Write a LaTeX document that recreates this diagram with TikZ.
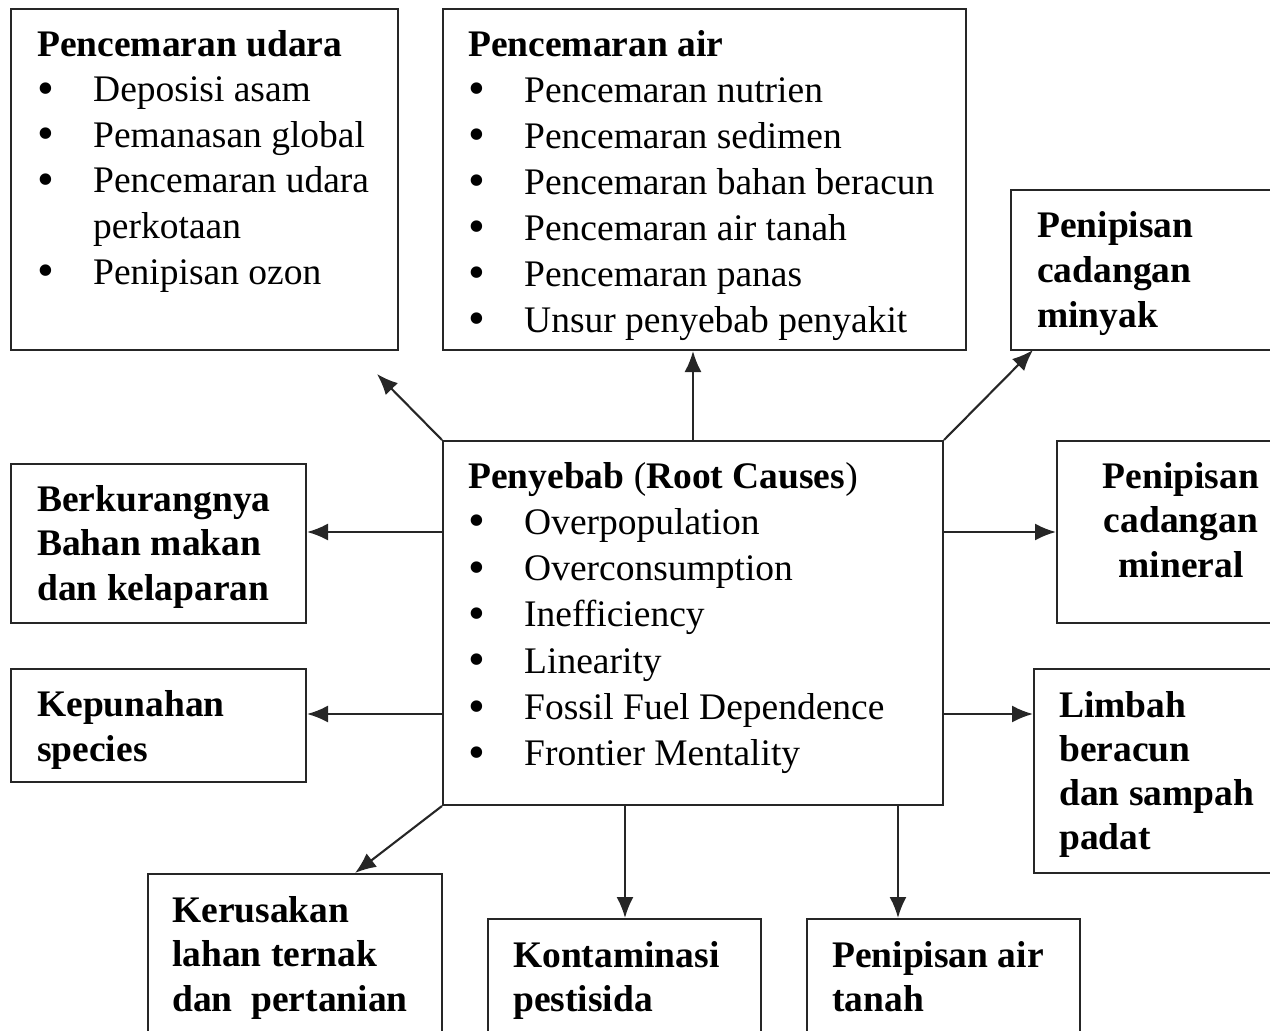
\documentclass[tikz,border=0pt]{standalone}
\usepackage{fontspec}
\setmainfont{Liberation Serif}
\usetikzlibrary{arrows.meta}
\newcommand\butir[1]{\makebox[56pt][l]{\hspace{0pt}\raisebox{-2.5pt}{\fontsize{48}{45}\selectfont\textbullet}}#1}
\newcommand\lanjut[1]{\makebox[56pt][l]{}#1}
\tikzset{
  kotak/.style={draw=black!85, line width=2pt, anchor=north west, inner sep=0pt},
  isi/.style={anchor=base west, inner sep=0pt, font=\fontsize{37.5}{45}\selectfont},
  panah/.style={draw=black!85, line width=2.1pt, -{Latex[length=21pt,width=17pt]}}
}
\begin{document}
\begin{tikzpicture}[x=1pt,y=-1pt]
  \useasboundingbox (0,0) rectangle (1270,1031);
  \clip (0,0) rectangle (1270,1031);
  % Kotak-kotak
  \node[kotak, minimum width=387pt, minimum height=341pt] (udara) at (10,8) {};
  \node[kotak, minimum width=523pt, minimum height=341pt] (air) at (442,8) {};
  \node[kotak, minimum width=300pt, minimum height=160pt] (minyak) at (1010,189) {};
  \node[kotak, minimum width=500pt, minimum height=364pt] (pusat) at (442,440) {};
  \node[kotak, minimum width=295pt, minimum height=159pt] (pangan) at (10,463) {};
  \node[kotak, minimum width=260pt, minimum height=182pt] (mineral) at (1056,440) {};
  \node[kotak, minimum width=295pt, minimum height=113pt] (spesies) at (10,668) {};
  \node[kotak, minimum width=280pt, minimum height=204pt] (limbah) at (1033,668) {};
  \node[kotak, minimum width=294pt, minimum height=200pt] (kerusakan) at (147,873) {};
  \node[kotak, minimum width=273pt, minimum height=150pt] (pestisida) at (487,918) {};
  \node[kotak, minimum width=273pt, minimum height=150pt] (airtanah) at (806,918) {};
  % Isi kotak
  \node[isi, font=\fontsize{37.5}{45.6}\selectfont] (udaraT) at (37,56) {\begin{tabular}[t]{@{}l@{}}
    \textbf{Pencemaran udara}\\ \butir{Deposisi asam}\\ \butir{Pemanasan global}\\
    \butir{Pencemaran udara}\\ \lanjut{perkotaan}\\ \butir{Penipisan ozon}\end{tabular}};
  \node[isi, font=\fontsize{37.5}{46}\selectfont] (airT) at (468,56) {\begin{tabular}[t]{@{}l@{}}
    \textbf{Pencemaran air}\\ \butir{Pencemaran nutrien}\\ \butir{Pencemaran sedimen}\\
    \butir{Pencemaran bahan beracun}\\ \butir{Pencemaran air tanah}\\
    \butir{Pencemaran panas}\\ \butir{Unsur penyebab penyakit}\end{tabular}};
  \node[isi] (minyakT) at (1037,237) {\begin{tabular}[t]{@{}l@{}}
    \textbf{Penipisan}\\ \textbf{cadangan}\\ \textbf{minyak}\end{tabular}};
  \node[isi, font=\fontsize{37.5}{46.3}\selectfont] (pusatT) at (468,488) {\begin{tabular}[t]{@{}l@{}}
    \textbf{Penyebab} (\textbf{Root Causes})\\ \butir{Overpopulation}\\ \butir{Overconsumption}\\
    \butir{Inefficiency}\\ \butir{Linearity}\\ \butir{Fossil Fuel Dependence}\\
    \butir{Frontier Mentality}\end{tabular}};
  \node[isi, font=\fontsize{37.5}{44.5}\selectfont] (panganT) at (37,511) {\begin{tabular}[t]{@{}l@{}}
    \textbf{Berkurangnya}\\ \textbf{Bahan makan}\\ \textbf{dan kelaparan}\end{tabular}};
  \node[isi, anchor=base, font=\fontsize{37.5}{44.5}\selectfont] (mineralT) at (1181,488) {\begin{tabular}[t]{@{}c@{}}
    \textbf{Penipisan}\\ \textbf{cadangan}\\ \textbf{mineral}\end{tabular}};
  \node[isi] (spesiesT) at (37,716) {\begin{tabular}[t]{@{}l@{}}
    \textbf{Kepunahan}\\ \textbf{species}\end{tabular}};
  \node[isi, font=\fontsize{37.5}{44}\selectfont] (limbahT) at (1059,717) {\begin{tabular}[t]{@{}l@{}}
    \textbf{Limbah}\\ \textbf{beracun}\\ \textbf{dan sampah}\\ \textbf{padat}\end{tabular}};
  \node[isi, font=\fontsize{37.5}{44.5}\selectfont] (kerusakanT) at (172,922) {\begin{tabular}[t]{@{}l@{}}
    \textbf{Kerusakan}\\ \textbf{lahan ternak}\\ \textbf{dan\ \ pertanian}\end{tabular}};
  \node[isi, font=\fontsize{37.5}{44.5}\selectfont] (pestisidaT) at (513,967) {\begin{tabular}[t]{@{}l@{}}
    \textbf{Kontaminasi}\\ \textbf{pestisida}\end{tabular}};
  \node[isi, font=\fontsize{37.5}{44.5}\selectfont] (airtanahT) at (832,967) {\begin{tabular}[t]{@{}l@{}}
    \textbf{Penipisan air}\\ \textbf{tanah}\end{tabular}};
  % Titik bantu panah
  \coordinate (ujungA) at (377,374);
  \coordinate (ujungB) at (1033,350);
  \coordinate (ujungC) at (355,873);
  \coordinate (barisAtas) at (0,532);
  \coordinate (barisBawah) at (0,714);
  \coordinate (kolomA) at (625,0);
  \coordinate (kolomB) at (898,0);
  % Panah
  \draw[panah] (pusat.north west) -- (ujungA);
  \draw[panah] (pusat.north) -- (pusat.north |- air.south);
  \draw[panah] (pusat.north east) -- (ujungB);
  \draw[panah] (pusat.west |- barisAtas) -- (pangan.east |- barisAtas);
  \draw[panah] (pusat.west |- barisBawah) -- (spesies.east |- barisBawah);
  \draw[panah] (pusat.east |- barisAtas) -- (mineral.west |- barisAtas);
  \draw[panah] (pusat.east |- barisBawah) -- (limbah.west |- barisBawah);
  \draw[panah] (pusat.south west) -- (ujungC);
  \draw[panah] (kolomA |- pusat.south) -- (kolomA |- pestisida.north);
  \draw[panah] (kolomB |- pusat.south) -- (kolomB |- airtanah.north);
\end{tikzpicture}
\end{document}
